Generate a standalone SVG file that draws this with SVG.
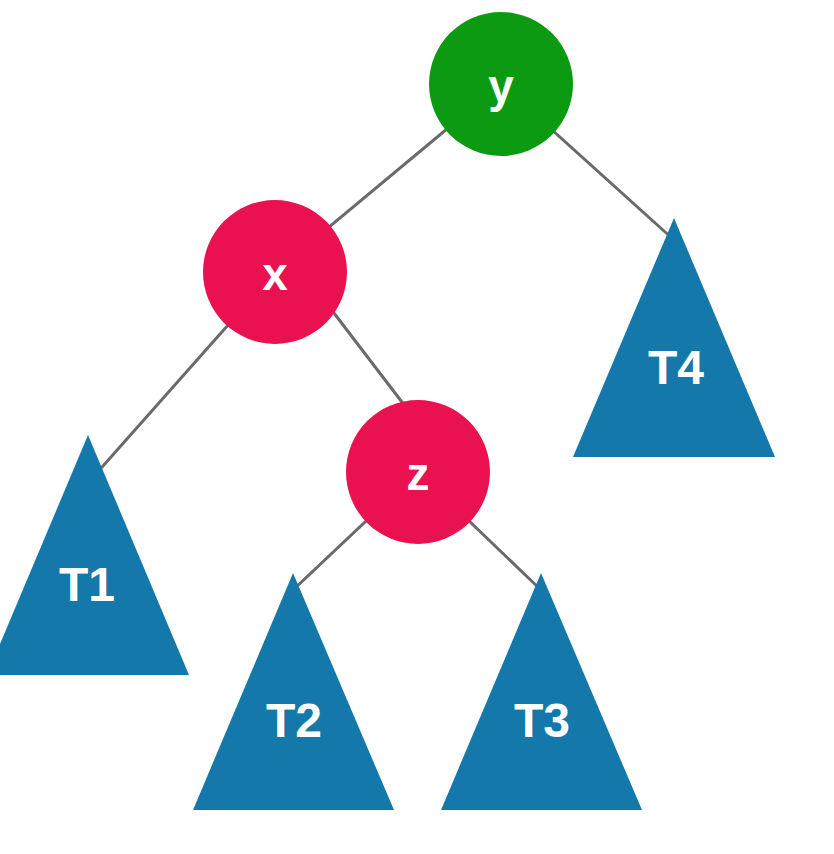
<svg xmlns="http://www.w3.org/2000/svg" width="834" height="854" viewBox="0 0 834 854">
<style>
.edge{stroke:#6a6a6a;stroke-width:3;fill:none}
.tri{fill:#1479aa}
.red{fill:#ea1150}
.green{fill:#0b9a12}
.lbl{font-family:"Liberation Sans",Arial,sans-serif;font-weight:bold;fill:#ffffff;text-anchor:middle;dominant-baseline:central}
.nl{font-size:46px}
.tl{font-size:48px}
</style>
<rect width="834" height="854" fill="#ffffff"/>
<g id="edges">
<line class="edge" x1="501" y1="84" x2="275" y2="272"/>
<line class="edge" x1="501" y1="84" x2="674" y2="240"/>
<line class="edge" x1="275" y1="272" x2="95" y2="475"/>
<line class="edge" x1="324" y1="300" x2="408" y2="410"/>
<line class="edge" x1="418" y1="472" x2="293" y2="590"/>
<line class="edge" x1="418" y1="472" x2="541" y2="590"/>
</g>
<g id="node-y"><circle class="green" cx="501" cy="84" r="72"/><text class="lbl nl" x="501" y="86">y</text></g>
<g id="node-x"><circle class="red" cx="275" cy="272" r="72"/><text class="lbl nl" x="275" y="274">x</text></g>
<g id="node-z"><circle class="red" cx="418" cy="472" r="72"/><text class="lbl nl" x="418" y="474">z</text></g>
<g id="T1"><polygon class="tri" points="88,435 189,675 -13,675"/><text class="lbl tl" x="87" y="584">T1</text></g>
<g id="T2"><polygon class="tri" points="293,573 394,810 193,810"/><text class="lbl tl" x="294" y="720">T2</text></g>
<g id="T3"><polygon class="tri" points="541,573 642,810 441,810"/><text class="lbl tl" x="542" y="720">T3</text></g>
<g id="T4"><polygon class="tri" points="674,218 775,457 573,457"/><text class="lbl tl" x="676" y="367">T4</text></g>
</svg>
